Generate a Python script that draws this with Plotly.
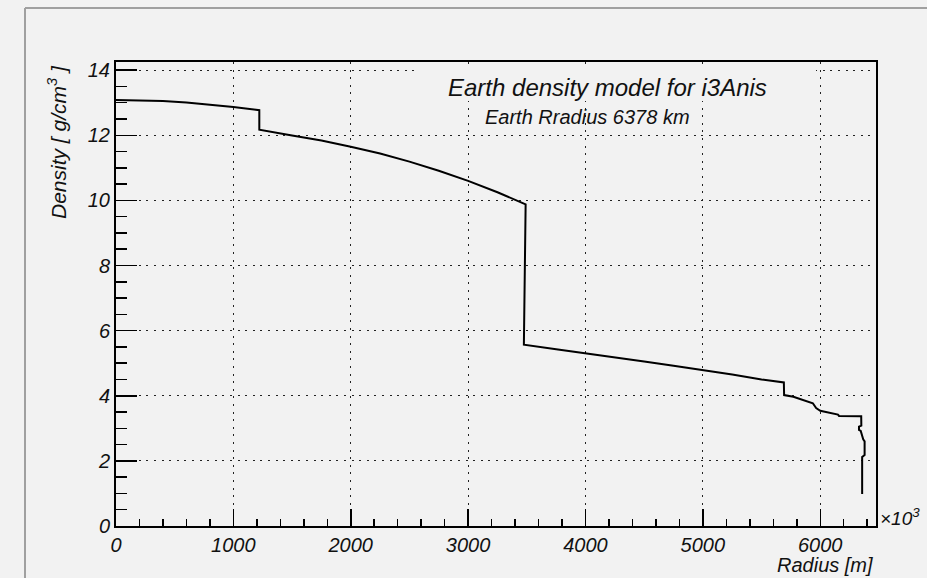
import plotly.graph_objects as go

# Earth density profile (radius in km, density in g/cm^3)
radius_km = [0, 200, 400, 600, 800, 1000, 1221, 1221, 1500, 1750, 2000, 2250,
             2500, 2750, 3000, 3250, 3490, 3475, 3750, 4000, 4250, 4500, 4750,
             5000, 5250, 5500, 5690, 5692, 5771, 5937, 5965, 6000, 6136, 6151,
             6160, 6349, 6350, 6330, 6330, 6345, 6366, 6378, 6378, 6357, 6357]
density = [13.08, 13.07, 13.05, 13.01, 12.95, 12.87, 12.77, 12.17, 11.99, 11.84,
           11.65, 11.44, 11.19, 10.91, 10.60, 10.25, 9.88, 5.57, 5.43, 5.31,
           5.18, 5.05, 4.92, 4.79, 4.65, 4.50, 4.41, 4.02, 3.97, 3.77, 3.62,
           3.54, 3.43, 3.42, 3.38, 3.37, 3.08, 3.05, 2.95, 2.92, 2.66, 2.60,
           2.18, 2.12, 0.98]

x_tick_step = 1000
y_tick_step = 2

title_text = "Earth density model for i3Anis"
subtitle_text = "Earth Rradius 6378 km"
x_title = "Radius [m]"
y_title = "Density [ g/cm<sup>3</sup> ]"
x_exp = "×10<sup>3</sup>"

W, H = 927, 578
L, R, T, B = 116, 876, 62, 526
XMAX, YMAX = 6475, 14.25
BG = "#f2f2f2"
FAM = "Liberation Sans, Arial, Helvetica, sans-serif"


def px(xp):
    return (xp - L) / (R - L)


def py(yp):
    return (B - yp) / (B - T)


def font(size):
    return dict(family=FAM, size=size, color="#111111", style="italic")


fig = go.Figure()
fig.add_trace(go.Scatter(x=radius_km, y=density, mode="lines",
                         line=dict(color="black", width=2),
                         showlegend=False, hoverinfo="skip"))

axis_common = dict(
    ticks="inside", tickcolor="black", tickwidth=1.5,
    showline=True, linecolor="black", linewidth=2, mirror=True,
    showgrid=True, gridcolor="#222222", gridwidth=1, griddash="2px,5.6px",
    zeroline=False, tickfont=font(20), fixedrange=True,
)

fig.update_xaxes(range=[0, XMAX], tick0=0, dtick=x_tick_step, ticklen=17,
                 minor=dict(ticks="inside", dtick=200, tick0=0, ticklen=7,
                            tickcolor="black", tickwidth=1.5, showgrid=False),
                 **axis_common)
fig.update_yaxes(range=[0, YMAX], tick0=0, dtick=y_tick_step, ticklen=21,
                 minor=dict(ticks="inside", dtick=0.5, tick0=0, ticklen=11,
                            tickcolor="black", tickwidth=1.5, showgrid=False),
                 **axis_common)

shapes = [
    # title pave (covers grid)
    dict(type="rect", xref="paper", yref="paper", x0=px(414), x1=px(816),
         y0=py(101), y1=py(69), fillcolor=BG, line=dict(width=0), layer="above"),
    # canvas border (left and top)
    dict(type="line", xref="paper", yref="paper", x0=px(25), x1=px(25),
         y0=py(8), y1=py(H), line=dict(color="#a0a0a0", width=2)),
    dict(type="line", xref="paper", yref="paper", x0=px(25), x1=px(W),
         y0=py(8), y1=py(8), line=dict(color="#a0a0a0", width=2)),
]

annotations = [
    dict(text=title_text, xref="paper", yref="paper", x=px(607.5), y=py(87),
         xanchor="center", yanchor="middle", showarrow=False, font=font(24)),
    dict(text=subtitle_text, xref="paper", yref="paper", x=px(587.5), y=py(117),
         xanchor="center", yanchor="middle", showarrow=False, font=font(20)),
    dict(text=x_title, xref="paper", yref="paper", x=px(875), y=py(565),
         xanchor="right", yanchor="middle", showarrow=False, font=font(20)),
    dict(text=y_title, xref="paper", yref="paper", x=px(57), y=py(63),
         xanchor="center", yanchor="top", textangle=-90, showarrow=False,
         font=font(21)),
    dict(text=x_exp, xref="paper", yref="paper", x=px(878), y=py(517),
         xanchor="left", yanchor="middle", showarrow=False, font=font(19)),
]

fig.update_layout(
    width=W, height=H,
    margin=dict(l=L, r=W - R, t=T, b=H - B, pad=0),
    paper_bgcolor=BG, plot_bgcolor=BG,
    shapes=shapes, annotations=annotations,
    font=font(20),
)

fig.write_html(
    "out.html",
    config={"displayModeBar": False, "staticPlot": True},
    post_script="document.body.style.margin='0';document.body.style.overflow='hidden';",
)
